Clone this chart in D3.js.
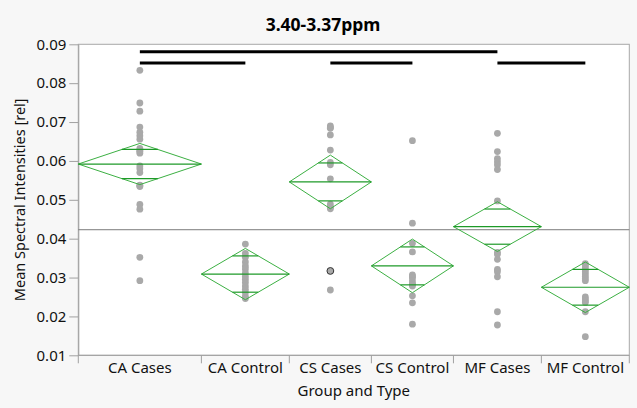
<!DOCTYPE html>
<html>
  <head>
    <meta charset="utf-8">
    <title>3.40-3.37ppm</title>
    <style>
      body { margin: 0; background: #f7f7f7; }
      text { font-family: "Noto Sans", "Open Sans", sans-serif; }
    </style>
  </head>
  <body>
    <script src="https://d3js.org/d3.v7.min.js"></script>
    <svg id="chart" width="637" height="408"></svg>
    <script>
      // groups, left to right
      groups = ["CA Cases", "CA Control", "CS Cases", "CS Control", "MF Cases", "MF Control"]

      // individual values per group
      caCases = [0.0833, 0.0749, 0.0728, 0.0687, 0.0674, 0.0665, 0.0656, 0.0632, 0.0627, 0.0624, 0.0620,
                 0.0587, 0.0580, 0.0570, 0.0538, 0.0536, 0.0534, 0.0488, 0.0476, 0.0352, 0.0292]
      caControl = [0.0386, 0.0362, 0.0352, 0.0340, 0.0330, 0.0322, 0.0312, 0.0303, 0.0295, 0.0287,
                   0.0278, 0.0270, 0.0262, 0.0252, 0.0246]
      csCases = [0.0690, 0.0686, 0.0684, 0.0667, 0.0628, 0.0596, 0.0590, 0.0554, 0.0489, 0.0482,
                 0.0480, 0.0477, 0.0317, 0.0268]
      csControl = [0.0652, 0.0440, 0.0388, 0.0366, 0.0307, 0.0303, 0.0300, 0.0292, 0.0285, 0.0282,
                   0.0278, 0.0253, 0.0235, 0.0180]
      mfCases = [0.0671, 0.0624, 0.0606, 0.0598, 0.0590, 0.0578, 0.0497, 0.0365, 0.0360, 0.0347,
                 0.0321, 0.0315, 0.0302, 0.0212, 0.0178]
      mfControl = [0.0336, 0.0332, 0.0327, 0.0321, 0.0315, 0.0309, 0.0303, 0.0297, 0.0292, 0.0250,
                   0.0245, 0.0240, 0.0236, 0.0212, 0.0148]
      values = [caCases, caControl, csCases, csControl, mfCases, mfControl]

      // the highlighted point (group index, value)
      selected = [2, 0.0317]

      // means diamonds: group mean and 95% CI half-width
      means = [0.0592, 0.0309, 0.0546, 0.0330, 0.0431, 0.0275]
      ciHalf = [0.0053, 0.0066, 0.0069, 0.0069, 0.0064, 0.0065]
      grandMean = 0.0423

      // significance bars: [from group, to group, level]
      sigBars = [[0, 4, 0.0881], [0, 1, 0.0852], [2, 3, 0.0852], [4, 5, 0.0852]]

      yTicks = [0.01, 0.02, 0.03, 0.04, 0.05, 0.06, 0.07, 0.08, 0.09]

      width = 637
      height = 408
      margin = {top: 44.3, right: 7.7, bottom: 52.7, left: 78.3}

      svg = d3.select('#chart')

      // x axis: each group gets a width proportional to its sample size
      counts = values.map(v => v.length)
      cum = [0]
      counts.forEach((c, i) => cum.push(cum[i] + c))
      x = d3.scaleLinear().domain([0, d3.sum(counts)]).range([margin.left, width - margin.right])
      y = d3.scaleLinear().domain([0.01, 0.09]).range([height - margin.bottom, margin.top])

      left = i => x(cum[i])
      right = i => x(cum[i + 1])
      center = i => (left(i) + right(i)) / 2

      // plot background and frame
      svg.append('rect')
        .attr('x', margin.left).attr('y', margin.top)
        .attr('width', width - margin.left - margin.right)
        .attr('height', height - margin.top - margin.bottom)
        .attr('fill', '#ffffff')
        .attr('stroke', '#a8a8a8')

      // y axis
      yAxis = svg.append('g')
        .attr('transform', `translate(${margin.left},0)`)
        .call(d3.axisLeft(y).tickValues(yTicks).tickFormat(d3.format('.2f')).tickSize(9).tickSizeOuter(0))
      yAxis.select('.domain').attr('stroke', '#a0a0a0')
      yAxis.selectAll('.tick line').attr('stroke', '#a0a0a0')
      yAxis.selectAll('.tick text')
        .attr('x', -12)
        .attr('fill', '#111')
        .style('font-size', '15px')
        .style('font-family', '"Noto Sans", sans-serif')

      // x axis: tick marks on group boundaries, labels centered in groups
      xg = svg.append('g')
      xg.append('line')
        .attr('x1', margin.left).attr('x2', width - margin.right)
        .attr('y1', y(0.01)).attr('y2', y(0.01))
        .attr('stroke', '#a0a0a0')
      xg.selectAll('.xtick')
        .data(cum)
        .join('line')
        .attr('x1', d => x(d)).attr('x2', d => x(d))
        .attr('y1', y(0.01)).attr('y2', y(0.01) + 8)
        .attr('stroke', '#a0a0a0')
      xg.selectAll('.xlabel')
        .data(groups)
        .join('text')
        .attr('x', (d, i) => center(i))
        .attr('y', y(0.01) + 17.5)
        .attr('text-anchor', 'middle')
        .style('font-size', '15px')
        .attr('fill', '#111')
        .text(d => d)

      // grand mean line
      svg.append('line')
        .attr('x1', margin.left).attr('x2', width - margin.right)
        .attr('y1', y(grandMean)).attr('y2', y(grandMean))
        .attr('stroke', '#7a7a7a')

      // points
      pts = []
      values.forEach((v, i) => v.forEach(d => pts.push({g: i, v: d})))
      svg.append('g')
        .selectAll('circle')
        .data(pts)
        .join('circle')
        .attr('cx', d => center(d.g))
        .attr('cy', d => y(d.v))
        .attr('r', 3.4)
        .attr('fill', '#a9a9a9')
        .attr('stroke', d => (d.g == selected[0] && d.v == selected[1]) ? '#333' : 'none')
        .attr('stroke-width', 1)

      // means diamonds
      dg = svg.append('g')
      means.forEach((m, i) => {
        let x0 = left(i), x1 = right(i), xc = center(i), w = x1 - x0
        dg.append('path')
          .attr('d', `M${x0},${y(m)}L${xc},${y(m + ciHalf[i])}L${x1},${y(m)}L${xc},${y(m - ciHalf[i])}Z`)
          .attr('fill', 'none')
          .attr('stroke', '#3cb043')
          .attr('stroke-width', 1)
        dg.append('line')
          .attr('x1', x0).attr('x2', x1)
          .attr('y1', y(m)).attr('y2', y(m))
          .attr('stroke', '#1e9a28')
          .attr('stroke-width', 1.2)
        // overlap marks at mean +/- ci/sqrt(2)
        let off = ciHalf[i] / Math.SQRT2
        let half = w / 2 * (1 - 1 / Math.SQRT2)
        ;[m + off, m - off].forEach(v => {
          dg.append('line')
            .attr('x1', xc - half).attr('x2', xc + half)
            .attr('y1', y(v)).attr('y2', y(v))
            .attr('stroke', '#1e9a28')
            .attr('stroke-width', 1.2)
        })
      })

      // significance bars
      svg.append('g')
        .selectAll('line')
        .data(sigBars)
        .join('line')
        .attr('x1', d => center(d[0])).attr('x2', d => center(d[1]))
        .attr('y1', d => y(d[2])).attr('y2', d => y(d[2]))
        .attr('stroke', '#000')
        .attr('stroke-width', 3)

      // title
      svg.append('text')
        .attr('x', 323)
        .attr('y', 31)
        .attr('text-anchor', 'middle')
        .style('font-size', '17.5px')
        .style('font-weight', 'bold')
        .attr('fill', '#000')
        .text('3.40-3.37ppm')

      // axis titles
      svg.append('text')
        .attr('x', (margin.left + width - margin.right) / 2)
        .attr('y', 396)
        .attr('text-anchor', 'middle')
        .style('font-size', '15px')
        .attr('fill', '#111')
        .text('Group and Type')

      svg.append('text')
        .attr('transform', `translate(25,${(y(0.01) + y(0.09)) / 2}) rotate(-90)`)
        .attr('text-anchor', 'middle')
        .style('font-size', '14.5px')
        .attr('fill', '#111')
        .text('Mean Spectral Intensities [rel]')
    </script>
  </body>
</html>
